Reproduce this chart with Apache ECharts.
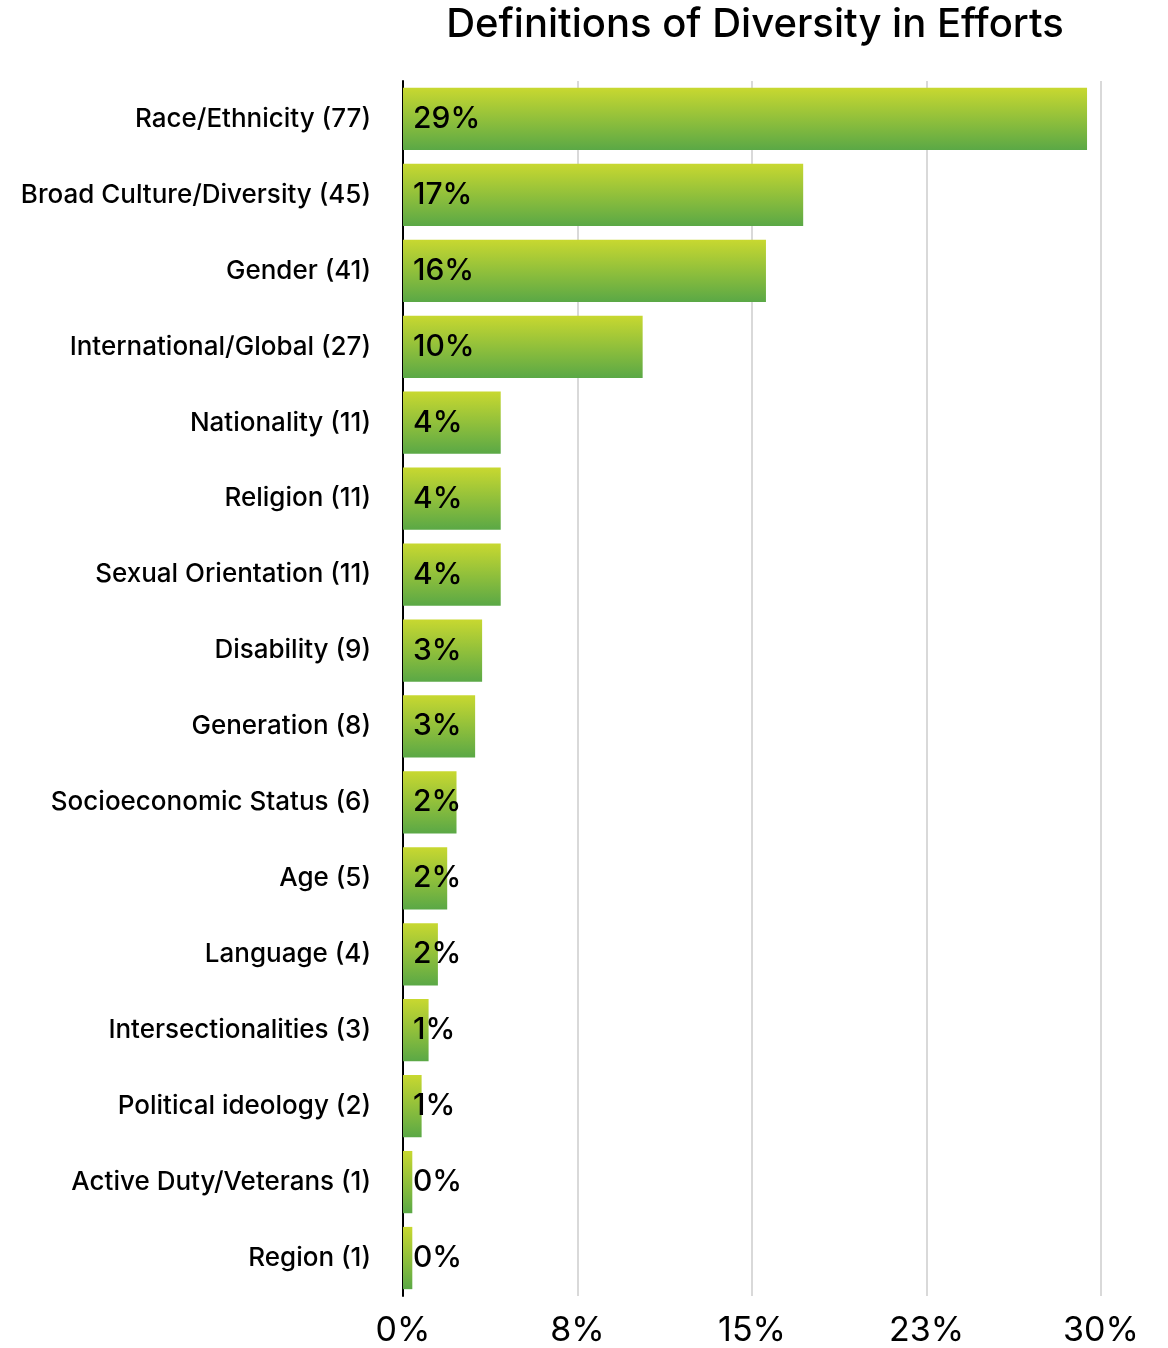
<!DOCTYPE html>
<html>
<head>
<meta charset="utf-8">
<script src="https://cdn.jsdelivr.net/npm/echarts@6/dist/echarts.min.js"></script>
<style>
  html, body { margin: 0; padding: 0; background: #fff; }
  #chart { width: 1168px; height: 1348px; }
</style>
</head>
<body>
<div id="chart"></div>
<script>
const categories = [
  "Race/Ethnicity (77)", "Broad Culture/Diversity (45)", "Gender (41)",
  "International/Global (27)", "Nationality (11)", "Religion (11)",
  "Sexual Orientation (11)", "Disability (9)", "Generation (8)",
  "Socioeconomic Status (6)", "Age (5)", "Language (4)",
  "Intersectionalities (3)", "Political ideology (2)",
  "Active Duty/Veterans (1)", "Region (1)"
];
const percents = [29.4, 17.2, 15.6, 10.3, 4.2, 4.2, 4.2, 3.4, 3.1, 2.3, 1.9, 1.5, 1.1, 0.8, 0.4, 0.4];
const tickLabels = ["0%", "8%", "15%", "23%", "30%"];

const font = "Inter";
const chart = echarts.init(document.getElementById("chart"));

chart.setOption({
  animation: false,
  title: {
    text: "Definitions of Diversity in Efforts",
    left: 750,
    textAlign: "center",
    top: 0,
    textStyle: { fontFamily: font, fontSize: 40, fontWeight: 500, color: "#000" }
  },
  grid: { left: 403, right: 67, top: 81, bottom: 48, containLabel: false },
  xAxis: {
    type: "value",
    min: 0,
    max: 30,
    interval: 7.5,
    axisLine: { show: false },
    axisTick: { show: false },
    splitLine: { lineStyle: { color: "#cccccc", width: 1.5 } },
    axisLabel: {
      margin: 18,
      fontFamily: font,
      fontSize: 34,
      color: "#000",
      formatter: (v) => tickLabels[Math.round(v / 7.5)]
    }
  },
  yAxis: {
    type: "category",
    data: categories,
    inverse: true,
    axisLine: { show: true, lineStyle: { color: "#000", width: 2 } },
    axisTick: { show: false },
    axisLabel: {
      margin: 32,
      fontFamily: font,
      fontSize: 26,
      fontWeight: 500,
      color: "#000"
    }
  },
  series: [{
    type: "bar",
    data: percents,
    barCategoryGap: "18%",
    itemStyle: {
      color: new echarts.graphic.LinearGradient(0, 0, 0, 1, [
        { offset: 0, color: "#c8d830" },
        { offset: 1, color: "#5aa846" }
      ])
    },
    label: {
      show: true,
      position: "insideLeft",
      distance: 10,
      fontFamily: font,
      fontSize: 30,
      fontWeight: 500,
      color: "#000",
      formatter: (p) => Math.round(p.value) + "%"
    }
  }]
});
</script>
</body>
</html>
